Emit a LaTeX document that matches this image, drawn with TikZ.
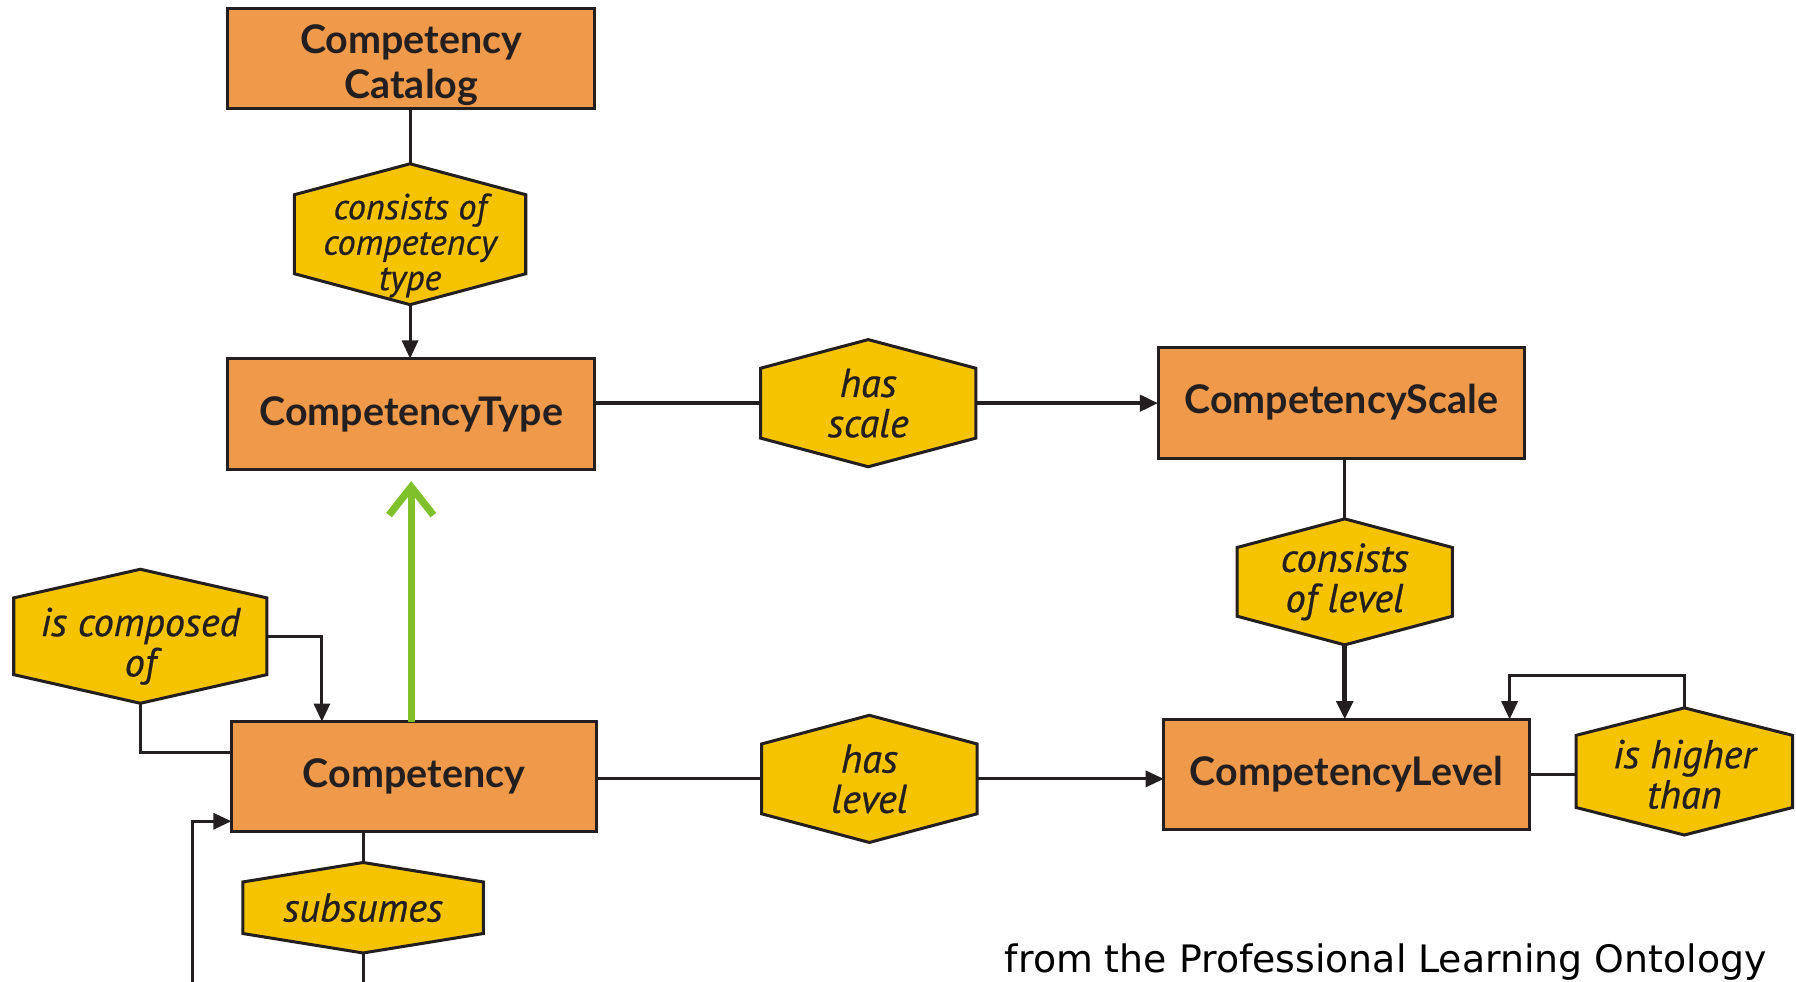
\documentclass[tikz,border=0pt]{standalone}
\usepackage{fontspec}
\setmainfont{PT Sans}
\newfontfamily\entityfont{Lato}
\newfontfamily\relfont[FakeBold=0.6]{PT Sans Italic}
\newfontfamily\creditfont{DejaVu Sans}
\usetikzlibrary{arrows.meta,calc}
\definecolor{boxorange}{HTML}{EF994A}
\definecolor{relyellow}{HTML}{F5C300}
\definecolor{inkline}{HTML}{231F20}
\definecolor{isagreen}{HTML}{80C02A}

% relationship hexagon: [node options], name, centre x, centre y, width, height, slant height, label
\newcommand\relhex[8][]{%
  \filldraw[hexshape] ({#3},{#4-#6/2}) -- ({#3+#5/2},{#4-#6/2+#7}) -- ({#3+#5/2},{#4+#6/2-#7})
    -- ({#3},{#4+#6/2}) -- ({#3-#5/2},{#4+#6/2-#7}) -- ({#3-#5/2},{#4-#6/2+#7}) -- cycle;
  \node[reltext, minimum width=#5*0.02cm, minimum height=#6*0.02cm, #1] (#2) at (#3,#4) {#8};
}

\tikzset{
  entity/.style={draw=inkline, fill=boxorange, line width=1.5pt, text=inkline,
    font=\entityfont\bfseries\fontsize{19.6}{22}\selectfont, align=center, inner sep=0pt, outer sep=0pt},
  reltext/.style={font=\relfont\fontsize{20}{20}\selectfont, align=center,
    inner sep=0pt, outer sep=0pt, text=inkline},
  hexshape/.style={draw=inkline, fill=relyellow, line width=1.5pt, line join=miter},
  link/.style={draw=inkline, line width=1.5pt},
  heavylink/.style={draw=inkline, line width=2pt},
  tip/.style={-{Triangle[length=9pt,width=8pt]}},
  isa/.style={draw=isagreen, line width=3.6pt, -{Straight Barb[length=14pt,width=22pt]}},
}

\begin{document}
\begin{tikzpicture}[x=0.02cm, y=-0.02cm]
\useasboundingbox (0,0) rectangle (1568,857);
\fill[white] (0,0) rectangle (1568,857);

% entity boxes
\node[entity, minimum width=6.4cm, minimum height=1.76cm] (cat) at (359,51) {\rule{0pt}{21pt}Competency\\[0.5pt]Catalog};
\node[entity, minimum width=6.4cm, minimum height=1.94cm] (ctype) at (359,361.5) {CompetencyType};
\node[entity, minimum width=6.4cm, minimum height=1.94cm] (cscale) at (1171,351.5) {CompetencyScale};
\node[entity, minimum width=6.38cm, minimum height=1.92cm] (comp) at (361.5,678) {Competency};
\node[entity, minimum width=6.38cm, minimum height=1.92cm] (clevel) at (1175.5,676) {CompetencyLevel};

% relationship hexagons
\relhex[font=\relfont\fontsize{18}{17.6}\selectfont]{rcat}{358}{204.5}{202}{123}{27}{\rule{0pt}{24pt}consists of\\competency\\type}
\relhex{rscale}{758}{352}{188}{111}{25}{has\\scale}
\relhex{rlevels}{1174}{508}{188}{110}{25}{consists\\of level}
\relhex{rhas}{759}{680}{188}{111}{25}{has\\level}
\relhex{rhigher}{1470.5}{673.5}{189}{111}{24}{\rule{0pt}{17pt}is higher\\than}
\relhex{rcomp}{122.5}{555.5}{221}{117}{25}{\rule{0pt}{24pt}is composed\\of}
\relhex{rsub}{317}{792.5}{210}{79}{17}{subsumes}

% connectors
\draw[link] (rcat.north |- cat.south) -- (rcat.north);
\draw[link, tip] (rcat.south) -- (rcat.south |- ctype.north);

\draw[heavylink] (rscale.west -| ctype.east) -- (rscale.west);
\draw[heavylink, tip] (rscale.east) -- (rscale.east -| cscale.west);

\draw[link] (rlevels.north |- cscale.south) -- (rlevels.north);
\draw[heavylink, line width=2.4pt, tip] (rlevels.south) -- (rlevels.south |- clevel.north);

\draw[link] (rhas.west -| comp.east) -- (rhas.west);
\draw[link, tip] (rhas.east) -- (rhas.east -| clevel.west);

\draw[link] (clevel.east) -- (clevel.east -| rhigher.west);
\draw[link, tip] (rhigher.north) |- ($(clevel.north east)+(-17,-38)$) -- ($(clevel.north east)+(-17,0)$);

\draw[isa] (ctype.south |- comp.north) -- ([yshift=-0.2cm]ctype.south);

\draw[link, tip] (rcomp.east) -| ($(comp.north west)+(79,0)$);
\draw[link] (rcomp.south) |- ($(comp.north west)+(0,27)$);

\draw[link] (rsub.north |- comp.south) -- (rsub.north);
\draw[link, tip] (rsub.south) -- ++(0,60) -| ($(comp.south west)+(-34,-9)$) -- ($(comp.south west)+(0,-9)$);

% credit line
\node[anchor=base west, inner sep=0pt, text=black, font=\creditfont\fontsize{18.8}{22}\selectfont] (credit) at (877,849) {from the Professional Learning Ontology};
\end{tikzpicture}
\end{document}
